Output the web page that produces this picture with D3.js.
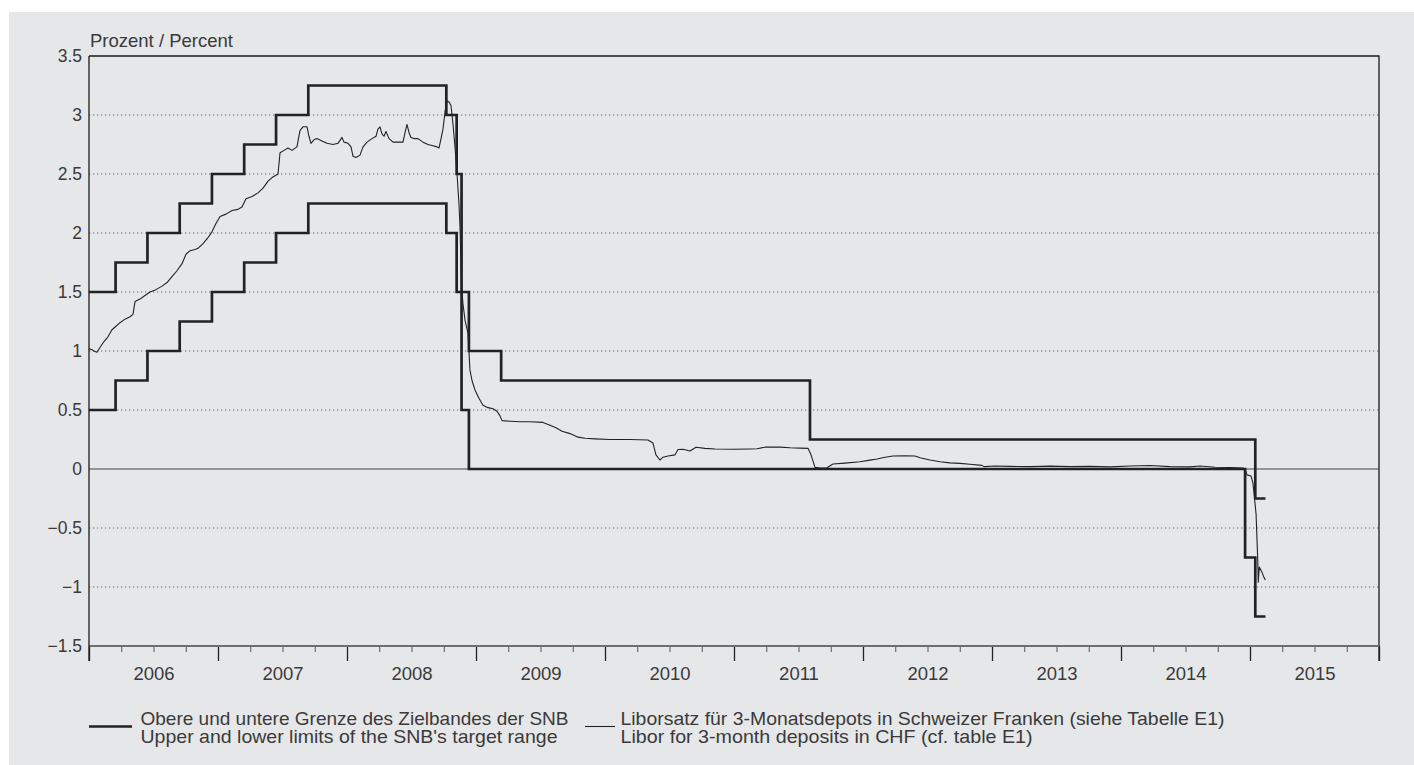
<!DOCTYPE html>
<html>
<head>
<meta charset="utf-8">
<script src="https://cdn.jsdelivr.net/npm/d3@7/dist/d3.min.js"></script>
<style>
  html, body { margin: 0; padding: 0; background: #ffffff; }
  svg { display: block; }
  text { font-family: "Liberation Sans", Arial, Helvetica, sans-serif; fill: #3a3a3a; }
</style>
</head>
<body>
<svg id="chart" width="1414" height="765"></svg>
<script>
// ---------------- DATA ----------------
const yearLabels = ["2006","2007","2008","2009","2010","2011","2012","2013","2014","2015"];
const yTicks = [-1.5,-1,-0.5,0,0.5,1,1.5,2,2.5,3,3.5];
const yTickLabels = ["\u22121.5","\u22121","\u22120.5","0","0.5","1","1.5","2","2.5","3","3.5"];
const gridValues = [-1,-0.5,0.5,1,1.5,2,2.5,3];

// SNB target range step dates (decimal years) and limits
const bandT     = [2006.000, 2006.206, 2006.453, 2006.703, 2006.953, 2007.203, 2007.450, 2007.700, 2008.770, 2008.850, 2008.888, 2008.945, 2009.195, 2011.589, 2014.962, 2015.041, 2015.120];
const bandUpper = [1.50, 1.75, 2.00, 2.25, 2.50, 2.75, 3.00, 3.25, 3.00, 2.50, 1.50, 1.00, 0.75, 0.25, 0.25, -0.25, -0.25];
const bandLower = [0.50, 0.75, 1.00, 1.25, 1.50, 1.75, 2.00, 2.25, 2.00, 1.50, 0.50, 0.00, 0.00, 0.00, -0.75, -1.25, -1.25];

// 3-month CHF Libor (decimal year, percent)
const liborT = [
 2006.000,2006.023,2006.039,2006.062,2006.085,2006.116,2006.147,2006.178,2006.209,2006.240,
 2006.279,2006.318,2006.341,2006.357,2006.395,2006.434,2006.473,2006.519,2006.566,2006.605,
 2006.643,2006.682,2006.721,2006.752,2006.783,2006.822,2006.845,2006.884,2006.922,2006.953,
 2006.984,2007.016,2007.062,2007.109,2007.155,2007.186,2007.217,2007.264,2007.310,2007.349,
 2007.388,2007.419,2007.465,2007.481,2007.512,2007.543,2007.574,2007.612,2007.636,2007.659,
 2007.690,2007.705,2007.721,2007.744,2007.767,2007.806,2007.845,2007.891,2007.930,2007.961,
 2007.977,2008.008,2008.031,2008.047,2008.070,2008.101,2008.124,2008.155,2008.194,2008.225,
 2008.240,2008.256,2008.271,2008.287,2008.302,2008.326,2008.357,2008.395,2008.434,2008.450,
 2008.465,2008.481,2008.496,2008.519,2008.550,2008.589,2008.628,2008.667,2008.698,2008.713,
 2008.729,2008.744,2008.760,2008.775,2008.791,2008.806,2008.822,2008.837,2008.853,2008.868,
 2008.876,2008.888,2008.899,2008.915,2008.938,2008.953,2008.969,2008.992,2009.023,2009.054,
 2009.093,2009.132,2009.163,2009.186,2009.202,2009.264,2009.341,2009.419,2009.519,2009.574,
 2009.620,2009.667,2009.729,2009.791,2009.845,2009.922,2010.039,2010.194,2010.333,2010.372,
 2010.395,2010.426,2010.450,2010.488,2010.543,2010.566,2010.605,2010.659,2010.705,2010.775,
 2010.853,2010.992,2011.124,2011.178,2011.240,2011.295,2011.357,2011.434,2011.512,2011.574,
 2011.597,2011.628,2011.667,2011.721,2011.767,2011.860,2011.977,2012.054,2012.109,2012.171,
 2012.233,2012.326,2012.403,2012.442,2012.519,2012.597,2012.674,2012.752,2012.829,2012.922,
 2012.938,2013.023,2013.140,2013.295,2013.450,2013.605,2013.760,2013.915,2014.070,2014.225,
 2014.380,2014.535,2014.612,2014.729,2014.845,2014.946,2014.961,2014.977,2015.008,2015.023,
 2015.047,2015.060,2015.064,2015.072,2015.091,2015.105,2015.119
];
const liborV = [
 1.02,1.01,1.00,0.99,1.03,1.08,1.12,1.18,1.21,1.24,
 1.27,1.29,1.31,1.42,1.44,1.47,1.50,1.52,1.55,1.58,
 1.63,1.68,1.74,1.82,1.85,1.86,1.87,1.91,1.96,2.01,
 2.08,2.14,2.16,2.19,2.20,2.22,2.29,2.31,2.34,2.38,
 2.44,2.47,2.50,2.68,2.70,2.72,2.70,2.73,2.87,2.90,
 2.90,2.82,2.76,2.79,2.80,2.78,2.76,2.75,2.76,2.81,
 2.77,2.76,2.73,2.65,2.64,2.66,2.73,2.77,2.80,2.82,
 2.88,2.90,2.84,2.82,2.86,2.80,2.77,2.77,2.77,2.85,
 2.92,2.85,2.81,2.80,2.80,2.77,2.75,2.74,2.73,2.72,
 2.80,2.88,3.03,3.12,3.11,3.08,2.92,2.73,2.50,2.25,
 2.05,1.55,1.40,1.26,1.15,0.84,0.75,0.67,0.60,0.54,
 0.52,0.51,0.49,0.45,0.41,0.405,0.40,0.40,0.395,0.37,
 0.35,0.32,0.30,0.27,0.26,0.255,0.25,0.25,0.246,0.22,
 0.12,0.076,0.10,0.11,0.12,0.165,0.168,0.152,0.184,0.175,
 0.17,0.168,0.17,0.172,0.185,0.186,0.185,0.18,0.177,0.175,
 0.12,0.014,0.008,0.01,0.042,0.05,0.062,0.075,0.085,0.10,
 0.11,0.112,0.11,0.095,0.076,0.062,0.052,0.048,0.04,0.031,
 0.02,0.025,0.022,0.02,0.024,0.02,0.022,0.018,0.025,0.03,
 0.02,0.018,0.025,0.015,0.013,0.008,0.0,-0.05,-0.06,-0.12,
 -0.38,-0.77,-0.96,-0.83,-0.87,-0.91,-0.94
];

const legendRow1A = "Obere und untere Grenze des Zielbandes der SNB";
const legendRow1B = "Upper and lower limits of the SNB's target range";
const legendRow2A = "Liborsatz f\u00fcr 3-Monatsdepots in Schweizer Franken (siehe Tabelle E1)";
const legendRow2B = "Libor for 3-month deposits in CHF (cf. table E1)";
const yAxisTitle = "Prozent / Percent";

// ---------------- CHART ----------------
const svg = d3.select("#chart");
const pLeft = 89, pRight = 1379, pTop = 56, pBottom = 646;

svg.append("rect").attr("x", 9).attr("y", 12).attr("width", 1405).attr("height", 753).attr("fill", "#e6e7e9");

const x = d3.scaleLinear().domain([2006, 2016]).range([pLeft, pRight]);
const y = d3.scaleLinear().domain([-1.5, 3.5]).range([pBottom, pTop]);

// dotted grid
svg.append("g").selectAll("line").data(gridValues).join("line")
  .attr("x1", pLeft).attr("x2", pRight)
  .attr("y1", d => y(d)).attr("y2", d => y(d))
  .attr("stroke", "#6a6a6a").attr("stroke-width", 1)
  .attr("stroke-dasharray", "1.3,2.7");

// zero line
svg.append("line")
  .attr("x1", pLeft).attr("x2", pRight).attr("y1", y(0)).attr("y2", y(0))
  .attr("stroke", "#7a7a7a").attr("stroke-width", 1.6);

// top & right frame
svg.append("path")
  .attr("d", `M${pLeft},${y(3.5)}H${pRight}V${pBottom + 15}`)
  .attr("fill", "none").attr("stroke", "#1a1a1a").attr("stroke-width", 1.3);

// x axis: quarter ticks
const quarterTicks = d3.range(2006, 2016.01, 0.25).filter(d => Math.abs(d - Math.round(d)) > 0.01);
const yearTicks = d3.range(2006, 2017, 1);
const midYears = yearTicks.slice(0, 10).map(d => d + 0.5);

const gq = svg.append("g").attr("transform", `translate(0,${pBottom})`)
  .call(d3.axisBottom(x).tickValues(quarterTicks).tickSize(6).tickFormat(""));
gq.select(".domain").remove();
gq.selectAll(".tick line").attr("stroke", "#555").attr("stroke-width", 1);

const gyr = svg.append("g").attr("transform", `translate(0,${pBottom})`)
  .call(d3.axisBottom(x).tickValues(yearTicks).tickSize(15).tickFormat(""));
gyr.select(".domain").remove();
gyr.selectAll(".tick line").attr("stroke", "#222").attr("stroke-width", 1.3);

// axis base line
svg.append("line").attr("x1", pLeft).attr("x2", pRight).attr("y1", pBottom).attr("y2", pBottom)
  .attr("stroke", "#6e6e6e").attr("stroke-width", 2);

const gl = svg.append("g").attr("transform", `translate(0,${pBottom})`)
  .call(d3.axisBottom(x).tickValues(midYears).tickSize(0).tickPadding(21)
    .tickFormat((d, i) => yearLabels[i]));
gl.select(".domain").remove();
gl.selectAll("text").attr("font-size", 18.5).attr("fill", "#3a3a3a")
  .style("font-family", '"Liberation Sans", Arial, sans-serif');

// y axis
const gya = svg.append("g").attr("transform", `translate(${pLeft},0)`)
  .call(d3.axisLeft(y).tickValues(yTicks).tickSize(0).tickPadding(7)
    .tickFormat(d => yTickLabels[yTicks.indexOf(d)]));
gya.select(".domain").remove();
gya.selectAll("text").attr("font-size", 17.5).attr("fill", "#3a3a3a")
  .style("font-family", '"Liberation Sans", Arial, sans-serif');
svg.append("line").attr("x1", pLeft).attr("x2", pLeft).attr("y1", pTop).attr("y2", pBottom + 15)
  .attr("stroke", "#1a1a1a").attr("stroke-width", 1.3);

svg.append("text").attr("x", pLeft + 1).attr("y", 46.5).attr("font-size", 18.5).text(yAxisTitle);

// Libor line
const libor = liborT.map((t, i) => [t, liborV[i]]);
svg.append("path").datum(libor)
  .attr("d", d3.line().x(d => x(d[0])).y(d => y(d[1])))
  .attr("fill", "none").attr("stroke", "#222").attr("stroke-width", 1.1)
  .attr("stroke-linejoin", "round");

// band step lines
const stepLine = d3.line().curve(d3.curveStepAfter).x(d => x(d[0])).y(d => y(d[1]));
[bandUpper, bandLower].forEach(vals => {
  svg.append("path").datum(bandT.map((t, i) => [t, vals[i]]))
    .attr("d", stepLine)
    .attr("fill", "none").attr("stroke", "#222").attr("stroke-width", 2.7)
    .attr("stroke-linejoin", "miter");
});

// legend
const lg = svg.append("g");
const addLegendText = (tx, ty, str, len) => lg.append("text")
  .attr("x", tx).attr("y", ty).attr("font-size", 19)
  .attr("textLength", len).attr("lengthAdjust", "spacingAndGlyphs").text(str);
lg.append("line").attr("x1", 89).attr("x2", 132).attr("y1", 726.5).attr("y2", 726.5)
  .attr("stroke", "#222").attr("stroke-width", 2.7);
addLegendText(140.5, 725, legendRow1A, 428);
addLegendText(140.5, 743.3, legendRow1B, 417);
lg.append("line").attr("x1", 585).attr("x2", 615).attr("y1", 726.5).attr("y2", 726.5)
  .attr("stroke", "#222").attr("stroke-width", 1.1);
addLegendText(620.5, 725, legendRow2A, 604);
addLegendText(620.5, 743.3, legendRow2B, 412);
</script>
</body>
</html>
